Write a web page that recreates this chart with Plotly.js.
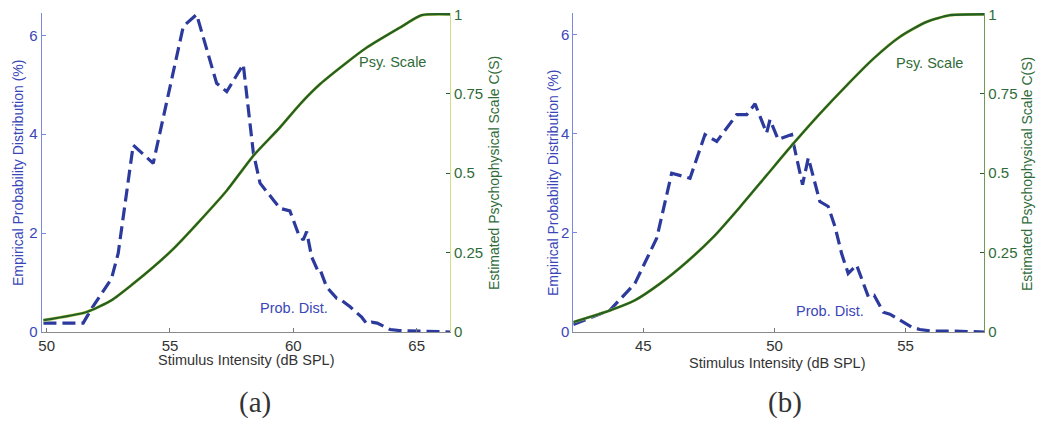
<!DOCTYPE html>
<html>
<head>
<meta charset="utf-8">
<script src="https://cdn.plot.ly/plotly-3.0.1.min.js"></script>
<style>html,body{margin:0;padding:0;background:#fff;}#chart{width:1038px;height:421px;}</style>
</head>
<body>
<div id="chart"></div>
<script>
// Panel (a)
const psyA_x = [49.87, 51.62, 52.63, 53.51, 54.32, 55.14, 56.22, 57.30, 58.38, 59.46, 60.27, 61.08, 62.16, 62.97, 64.32, 65.2, 66.35];
const psyA_y = [0.037, 0.063, 0.10, 0.152, 0.204, 0.262, 0.351, 0.445, 0.555, 0.644, 0.717, 0.78, 0.848, 0.895, 0.958, 0.997, 1.0];
const probA_x = [49.87, 51.48, 51.82, 52.63, 52.9, 53.51, 54.32, 55.54, 56.08, 56.89, 57.30, 57.97, 58.38, 58.65, 59.19, 59.46, 59.86, 60.2, 60.4, 60.54, 60.74, 61.01, 61.1, 61.35, 61.76, 61.9, 62.3, 62.77, 62.97, 63.17, 63.4, 63.92, 64.3, 64.9, 65.5, 66.35];
const probA_y = [0.18, 0.18, 0.47, 1.08, 1.59, 3.78, 3.41, 6.18, 6.42, 5.03, 4.86, 5.41, 3.62, 3.01, 2.67, 2.5, 2.45, 1.99, 1.86, 2.03, 1.52, 1.22, 1.24, 0.91, 0.68, 0.66, 0.51, 0.30, 0.17, 0.20, 0.18, 0.05, 0.03, 0.02, 0.01, 0.0];

// Panel (b)
const psyB_x = [42.33, 43.73, 44.68, 45.63, 46.65, 47.67, 48.68, 49.70, 50.72, 51.73, 52.75, 53.77, 54.78, 55.8, 56.69, 58.0];
const psyB_y = [0.031, 0.068, 0.10, 0.152, 0.22, 0.299, 0.393, 0.493, 0.593, 0.687, 0.776, 0.86, 0.929, 0.976, 0.997, 1.0];
const probB_x = [42.33, 43.73, 44.68, 45.51, 46.08, 46.78, 47.35, 47.8, 48.56, 48.94, 49.26, 49.7, 49.83, 50.14, 50.65, 51.07, 51.29, 51.73, 52.05, 52.31, 52.56, 52.81, 53.13, 53.32, 53.58, 53.8, 54.15, 54.4, 54.78, 55.23, 55.54, 56.0, 56.8, 58.0];
const probB_y = [0.15, 0.44, 0.98, 1.89, 3.2, 3.1, 3.98, 3.84, 4.38, 4.38, 4.6, 4.01, 4.28, 3.88, 3.98, 2.97, 3.51, 2.63, 2.53, 2.12, 1.58, 1.18, 1.35, 1.08, 0.71, 0.74, 0.40, 0.36, 0.24, 0.10, 0.05, 0.02, 0.02, 0.0];

const yTicks = [0, 2, 4, 6];
const y2Ticks = [0, 0.25, 0.5, 0.75, 1];
const y2TickText = ['0', '0.25', '0.5', '0.75', '1'];
const xTicksA = [50, 55, 60, 65];
const xTicksB = [45, 50, 55];

const BLUE = '#2b3a9c';
const BLUE_TXT = '#3a46b8';
const GREEN = '#235f27';
const GREEN_TXT = '#2f6b38';
const FONT = 'Liberation Sans, Arial, sans-serif';

function psyTraces(x, y, xa, ya) {
  return [
    {x: x, y: y, xaxis: xa, yaxis: ya, mode: 'lines', line: {color: '#cbd65a', width: 3.0, shape: 'spline', smoothing: 0.6}, hoverinfo: 'skip', showlegend: false},
    {x: x, y: y, xaxis: xa, yaxis: ya, mode: 'lines', line: {color: GREEN, width: 2.3, shape: 'spline', smoothing: 0.6}, name: 'Psy. Scale', showlegend: false}
  ];
}
function probTrace(x, y, xa, ya) {
  return {x: x, y: y, xaxis: xa, yaxis: ya, mode: 'lines', line: {color: BLUE, width: 3.2, dash: '13px,6px'}, name: 'Prob. Dist.', showlegend: false};
}

const data = [
  probTrace(probA_x, probA_y, 'x', 'y'),
  ...psyTraces(psyA_x, psyA_y, 'x', 'y2'),
  probTrace(probB_x, probB_y, 'x2', 'y3'),
  ...psyTraces(psyB_x, psyB_y, 'x2', 'y4')
];

const yDom = [1 - 332 / 421, 1 - 13 / 421];
function xAxis(dom, range, ticks, anchor) {
  return {domain: dom, range: range, tickvals: ticks, ticks: 'inside', ticklen: 4, tickcolor: '#777',
    showline: true, linecolor: '#8a8a8a', linewidth: 1, mirror: false, showgrid: false, zeroline: false,
    tickfont: {family: FONT, size: 15, color: '#333'}, anchor: anchor, fixedrange: true};
}
function yLeft(range, anchor, lineColor) {
  return {domain: yDom, range: range, tickvals: yTicks, ticks: 'inside', ticklen: 4, tickcolor: lineColor,
    showline: true, linecolor: lineColor, linewidth: 1, showgrid: false, zeroline: false,
    tickfont: {family: FONT, size: 15, color: BLUE_TXT}, anchor: anchor, fixedrange: true};
}
function yRight(anchor, overlay, lineColor) {
  return {domain: yDom, range: [0, 1.004], tickvals: y2Ticks, ticktext: y2TickText, ticks: 'inside', ticklen: 4, tickcolor: GREEN,
    showline: true, linecolor: lineColor, linewidth: 1, showgrid: false, zeroline: false, side: 'right',
    overlaying: overlay, anchor: anchor,
    tickfont: {family: FONT, size: 15, color: GREEN_TXT}, fixedrange: true};
}

const ann = (x, y, text, color, size, angle, family) => ({
  x: x / 1038, y: 1 - y / 421, xref: 'paper', yref: 'paper', text: text, showarrow: false,
  xanchor: 'center', yanchor: 'middle', textangle: angle || 0,
  font: {family: family || FONT, size: size, color: color}
});

const layout = {
  width: 1038, height: 421,
  margin: {l: 0, r: 0, t: 0, b: 0},
  paper_bgcolor: '#fff', plot_bgcolor: 'rgba(0,0,0,0)',
  showlegend: false,
  xaxis: xAxis([41.7 / 1038, 450 / 1038], [49.8, 66.35], xTicksA, 'y'),
  yaxis: yLeft([0, 6.45], 'x', '#7a88e0'),
  yaxis2: yRight('x', 'y', '#d3dd86'),
  xaxis2: xAxis([573.3 / 1038, 984.3 / 1038], [42.33, 58.0], xTicksB, 'y3'),
  yaxis3: yLeft([0, 6.43], 'x2', '#7a88e0'),
  yaxis4: yRight('x2', 'y3', '#6f9a5a'),
  annotations: [
    ann(18, 173, 'Empirical Probability Distribution (%)', BLUE_TXT, 14, -90),
    ann(494, 173, 'Estimated Psychophysical Scale C(S)', GREEN_TXT, 14, -90),
    ann(246, 360, 'Stimulus Intensity (dB SPL)', '#333', 14.5),
    ann(392, 62, 'Psy. Scale', GREEN_TXT, 14.5),
    ann(294, 308, 'Prob. Dist.', BLUE_TXT, 14.5),
    ann(255, 402, '(a)', '#333', 29, 0, 'Liberation Serif, DejaVu Serif, serif'),
    ann(553, 183, 'Empirical Probability Distribution (%)', BLUE_TXT, 14, -90),
    ann(1027, 174, 'Estimated Psychophysical Scale C(S)', GREEN_TXT, 14, -90),
    ann(777, 363, 'Stimulus Intensity (dB SPL)', '#333', 14.5),
    ann(929, 63, 'Psy. Scale', GREEN_TXT, 14.5),
    ann(830, 311, 'Prob. Dist.', BLUE_TXT, 14.5),
    ann(785, 402, '(b)', '#333', 29, 0, 'Liberation Serif, DejaVu Serif, serif')
  ]
};

Plotly.newPlot('chart', data, layout, {displayModeBar: false, staticPlot: true});
</script>
</body>
</html>
